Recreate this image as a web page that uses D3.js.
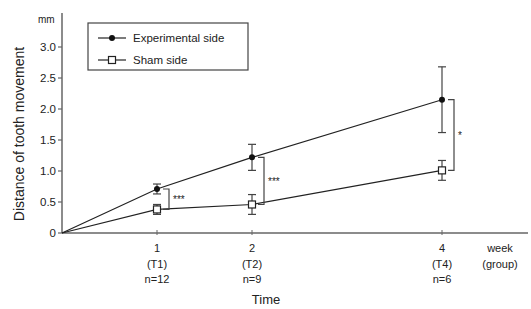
<!DOCTYPE html>
<html>
<head>
<meta charset="utf-8">
<script src="https://cdn.jsdelivr.net/npm/d3@7"></script>
<style>
  body { margin: 0; background: #fff; }
  text { font-family: "Liberation Sans", Arial, sans-serif; fill: #222; }
</style>
</head>
<body>
<svg></svg>
<script>
var width = 531, height = 309;

// data
var weeks = [0, 1, 2, 4];
var expMean = [0, 0.71, 1.22, 2.15];
var expErr = [0, 0.08, 0.21, 0.53];
var shamMean = [0, 0.38, 0.46, 1.01];
var shamErr = [0, 0.08, 0.16, 0.16];
var tickWeeks = [1, 2, 4];
var tickGroups = ["(T1)", "(T2)", "(T4)"];
var tickN = ["n=12", "n=9", "n=6"];
var yTicks = [0, 0.5, 1.0, 1.5, 2.0, 2.5, 3.0];
var sigLabels = ["***", "***", "*"];

var svg = d3.select("svg").attr("width", width).attr("height", height);

var x = d3.scaleLinear().domain([0, 4]).range([62, 442]);
var y = d3.scaleLinear().domain([0, 3]).range([233, 47]);

// y axis
svg.append("line")
    .attr("x1", x(0)).attr("x2", x(0))
    .attr("y1", y(0)).attr("y2", 13)
    .attr("stroke", "#666").attr("stroke-width", 1.5);
var yt = svg.append("g").selectAll("g").data(yTicks).enter().append("g");
yt.append("line")
    .attr("x1", x(0) - 4).attr("x2", x(0))
    .attr("y1", function(d) { return y(d); }).attr("y2", function(d) { return y(d); })
    .attr("stroke", "#666").attr("stroke-width", 1.2);
yt.append("text")
    .attr("x", x(0) - 6).attr("y", function(d) { return y(d) + 4; })
    .attr("text-anchor", "end").attr("font-size", 11.5)
    .text(function(d) { return d === 0 ? "0" : d.toFixed(1); });
svg.append("text").attr("x", 38).attr("y", 23).attr("font-size", 10).text("mm");

svg.append("text")
    .attr("transform", "translate(24,134) rotate(-90)")
    .attr("text-anchor", "middle").attr("font-size", 14)
    .text("Distance of tooth movement");

// x axis
svg.append("line")
    .attr("x1", x(0)).attr("x2", 528)
    .attr("y1", y(0)).attr("y2", y(0))
    .attr("stroke", "#666").attr("stroke-width", 1.5);
var xt = svg.append("g").selectAll("g").data(tickWeeks).enter().append("g");
xt.append("line")
    .attr("x1", function(d) { return x(d); }).attr("x2", function(d) { return x(d); })
    .attr("y1", y(0) - 3).attr("y2", y(0) + 2)
    .attr("stroke", "#666");
xt.append("text").attr("x", function(d) { return x(d); }).attr("y", 252)
    .attr("text-anchor", "middle").attr("font-size", 11).text(function(d) { return d; });
xt.append("text").attr("x", function(d) { return x(d); }).attr("y", 268)
    .attr("text-anchor", "middle").attr("font-size", 11).text(function(d, i) { return tickGroups[i]; });
xt.append("text").attr("x", function(d) { return x(d); }).attr("y", 283)
    .attr("text-anchor", "middle").attr("font-size", 11).text(function(d, i) { return tickN[i]; });
svg.append("text").attr("x", 500).attr("y", 252).attr("text-anchor", "middle").attr("font-size", 11).text("week");
svg.append("text").attr("x", 500).attr("y", 268).attr("text-anchor", "middle").attr("font-size", 11).text("(group)");
svg.append("text").attr("x", 266).attr("y", 304).attr("text-anchor", "middle").attr("font-size", 13).text("Time");

// series
var line = d3.line().x(function(d) { return x(d[0]); }).y(function(d) { return y(d[1]); });
function drawSeries(means, errs, filled) {
  var pts = weeks.map(function(w, i) { return [w, means[i], errs[i]]; });
  svg.append("path").datum(pts).attr("d", line)
      .attr("fill", "none").attr("stroke", "#222").attr("stroke-width", 1.2);
  var eb = svg.append("g").selectAll("g").data(pts.filter(function(d) { return d[2] > 0; })).enter().append("g")
      .attr("stroke", "#444").attr("stroke-width", 1.2);
  eb.append("line")
      .attr("x1", function(d) { return x(d[0]); }).attr("x2", function(d) { return x(d[0]); })
      .attr("y1", function(d) { return y(d[1] + d[2]); }).attr("y2", function(d) { return y(d[1] - d[2]); });
  [1, -1].forEach(function(s) {
    eb.append("line")
        .attr("x1", function(d) { return x(d[0]) - 4; }).attr("x2", function(d) { return x(d[0]) + 4; })
        .attr("y1", function(d) { return y(d[1] + s * d[2]); }).attr("y2", function(d) { return y(d[1] + s * d[2]); });
  });
  var mk = pts.filter(function(d) { return d[0] > 0; });
  if (filled) {
    svg.append("g").selectAll("circle").data(mk).enter().append("circle")
        .attr("cx", function(d) { return x(d[0]); }).attr("cy", function(d) { return y(d[1]); })
        .attr("r", 3).attr("fill", "#111");
  } else {
    svg.append("g").selectAll("rect").data(mk).enter().append("rect")
        .attr("x", function(d) { return x(d[0]) - 3.5; }).attr("y", function(d) { return y(d[1]) - 3.5; })
        .attr("width", 7).attr("height", 7)
        .attr("fill", "#fff").attr("stroke", "#222").attr("stroke-width", 1.2);
  }
}
drawSeries(expMean, expErr, true);
drawSeries(shamMean, shamErr, false);

// significance brackets
var brackets = tickWeeks.map(function(w, i) { return { w: w, a: expMean[i + 1], b: shamMean[i + 1], lab: sigLabels[i] }; });
var bg = svg.append("g").selectAll("g").data(brackets).enter().append("g");
bg.append("path")
    .attr("d", function(d) {
      var bx = x(d.w) + 12;
      return "M" + (bx - 6) + "," + y(d.a) + "H" + bx + "V" + y(d.b) + "H" + (bx - 6);
    })
    .attr("fill", "none").attr("stroke", "#444").attr("stroke-width", 1.2);
bg.append("text")
    .attr("x", function(d) { return x(d.w) + 16; })
    .attr("y", function(d) { return (y(d.a) + y(d.b)) / 2 + 4; })
    .attr("font-size", 10).text(function(d) { return d.lab; });

// legend
var lg = svg.append("g");
lg.append("rect").attr("x", 88).attr("y", 23).attr("width", 160).attr("height", 47)
    .attr("fill", "#fff").attr("stroke", "#444").attr("stroke-width", 1.2);
lg.append("line").attr("x1", 98).attr("x2", 126).attr("y1", 38).attr("y2", 38).attr("stroke", "#222").attr("stroke-width", 1.2);
lg.append("circle").attr("cx", 112).attr("cy", 38).attr("r", 3).attr("fill", "#111");
lg.append("text").attr("x", 133).attr("y", 42).attr("font-size", 11.5).text("Experimental side");
lg.append("line").attr("x1", 98).attr("x2", 126).attr("y1", 60).attr("y2", 60).attr("stroke", "#222").attr("stroke-width", 1.2);
lg.append("rect").attr("x", 108.5).attr("y", 56.5).attr("width", 7).attr("height", 7)
    .attr("fill", "#fff").attr("stroke", "#222").attr("stroke-width", 1.2);
lg.append("text").attr("x", 133).attr("y", 64).attr("font-size", 11.5).text("Sham side");
</script>
</body>
</html>
